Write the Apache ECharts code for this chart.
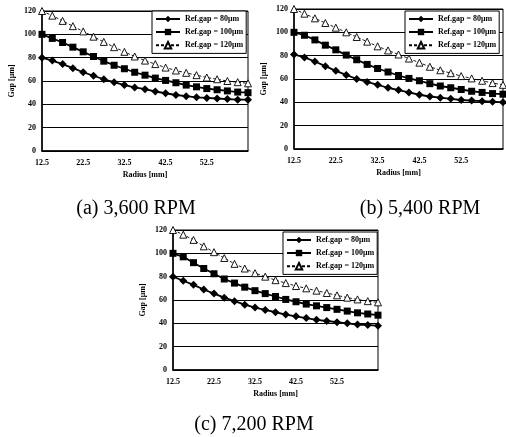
<!DOCTYPE html>
<html>
<head>
<meta charset="utf-8">
<script src="https://cdn.jsdelivr.net/npm/echarts@6/dist/echarts.min.js"></script>
<style>html,body{margin:0;padding:0;background:#fff}#c{width:506px;height:437px}</style>
</head>
<body>
<div id="c"></div>
<script>
const radius = ['12.5','15','17.5','20','22.5','25','27.5','30','32.5','35','37.5','40','42.5','45','47.5','50','52.5','55','57.5','60','62.5'];
const yTicks = [0, 20, 40, 60, 80, 100, 120];
const seriesNames = ['Ref.gap = 80μm', 'Ref.gap = 100μm', 'Ref.gap = 120μm'];
const captions = ['(a) 3,600 RPM', '(b) 5,400 RPM', '(c) 7,200 RPM'];

const a80  = [80, 77.5, 74.5, 71, 67.5, 64.5, 61.5, 59, 56.5, 54.5, 53, 51, 49.5, 48, 47, 46, 45.5, 45, 44.5, 44, 44];
const a100 = [100, 96.5, 93, 89, 85, 81, 77, 73.5, 70.5, 67.5, 65, 62.5, 60.5, 58.5, 56.5, 55, 53.5, 52.5, 51.5, 50.5, 50];
const a120 = [120, 116, 111.5, 107, 102.5, 98, 93.5, 89, 85, 81, 77.5, 74.5, 71.5, 69, 67, 65, 63, 61.5, 60, 59, 58];

const b80  = [81, 78.5, 75, 71, 67, 63.5, 60, 57.5, 55, 52.5, 50.5, 48.5, 46.5, 45, 44, 43, 42, 41.5, 41, 40.5, 40];
const b100 = [100, 97.5, 93.5, 89, 85, 80.5, 76.5, 72.5, 69, 66, 63, 60.5, 58.5, 56, 54, 52.5, 51, 49.5, 48.5, 47.5, 47];
const b120 = [120, 116, 112, 108, 104, 100, 96, 92, 88, 84.5, 81, 77.5, 74, 70.5, 67.5, 65, 62.5, 60.5, 58.5, 56.5, 55];

const c80  = [80, 76.5, 73, 69, 65.5, 62, 59, 56, 53.5, 51.5, 49.5, 47.5, 46, 44.5, 43, 42, 41, 40, 39, 38.5, 38];
const c100 = [100, 97, 92, 87, 82.5, 78, 74.5, 71, 68, 65.5, 63, 60.5, 58.5, 56.5, 55, 53.5, 52, 50.5, 49, 48, 47];
const c120 = [120, 116, 111.5, 106, 101, 96, 91, 87, 83, 80, 77, 74.5, 72, 70, 68, 66, 64, 62, 60.5, 59, 58];

const panels = [
  {data: [a80, a100, a120], grid: {left: 42, top: 11, width: 206, height: 140}, legend: {left: 152, top: 11}, cap: {x: 136, y: 209}},
  {data: [b80, b100, b120], grid: {left: 294, top: 9, width: 209, height: 140}, legend: {left: 405, top: 11}, cap: {x: 420, y: 209}},
  {data: [c80, c100, c120], grid: {left: 173, top: 230, width: 205, height: 140}, legend: {left: 283, top: 232}, cap: {x: 254, y: 425}}
];

const lblFont = {fontFamily: 'Liberation Serif', fontWeight: 'bold', fontSize: 8, color: '#000'};
const grids = [], xAxes = [], yAxes = [], series = [], legends = [], graphics = [];

panels.forEach((p, i) => {
  grids.push(Object.assign({show: true, borderColor: '#000', borderWidth: 1, backgroundColor: '#fff'}, p.grid));
  xAxes.push({
    type: 'category', gridIndex: i, data: radius, boundaryGap: false,
    name: 'Radius [mm]', nameLocation: 'middle', nameGap: 20,
    nameTextStyle: lblFont,
    axisLine: {lineStyle: {color: '#000', width: 1.5}},
    axisTick: {show: false},
    axisLabel: Object.assign({margin: 8, interval: (idx) => idx % 4 === 0 && idx < 20}, lblFont),
    splitLine: {show: false}
  });
  yAxes.push({
    type: 'value', gridIndex: i, min: yTicks[0], max: yTicks[yTicks.length - 1], interval: 20,
    name: 'Gap [μm]', nameLocation: 'middle', nameGap: 26, nameRotate: 90,
    nameTextStyle: lblFont,
    axisLine: {show: true, lineStyle: {color: '#000', width: 1.5}},
    axisTick: {show: false},
    axisLabel: Object.assign({margin: 6}, lblFont),
    splitLine: {show: true, lineStyle: {color: '#000', width: 1}}
  });
  const styles = [
    {symbol: 'diamond', symbolSize: 8, itemStyle: {color: '#000'}, lineStyle: {color: '#000', width: 1.8, type: 'solid'}},
    {symbol: 'rect', symbolSize: 7, itemStyle: {color: '#000'}, lineStyle: {color: '#000', width: 1.8, type: 'solid'}},
    {symbol: 'triangle', symbolSize: 7, itemStyle: {color: '#fff', borderColor: '#000', borderWidth: 0.9}, lineStyle: {color: '#000', width: 0.9, type: [3, 2]}}
  ];
  p.data.forEach((d, k) => {
    series.push(Object.assign({
      type: 'line', name: seriesNames[k], xAxisIndex: i, yAxisIndex: i, data: d,
      showSymbol: true, showAllSymbol: true, animation: false, z: 3 + k
    }, styles[k]));
  });
  legends.push({
    data: seriesNames, orient: 'vertical', left: p.legend.left, top: p.legend.top,
    itemWidth: 24, itemHeight: 8, itemGap: 5, padding: [4, 3, 4, 3],
    backgroundColor: '#fff', borderColor: '#000', borderWidth: 1,
    textStyle: {fontFamily: 'Liberation Serif', fontWeight: 'bold', fontSize: 8, color: '#000', padding: [0, 0, 0, 0]},
    selectedMode: false
  });
  graphics.push({
    type: 'text', x: p.cap.x, y: p.cap.y,
    style: {text: captions[i], fontFamily: 'Liberation Serif', fontSize: 20, fill: '#000', align: 'center', verticalAlign: 'middle'}
  });
});

const chart = echarts.init(document.getElementById('c'), null, {renderer: 'canvas'});
chart.setOption({
  animation: false,
  backgroundColor: '#fff',
  grid: grids, xAxis: xAxes, yAxis: yAxes, series: series, legend: legends,
  graphic: graphics
});
</script>
</body>
</html>
